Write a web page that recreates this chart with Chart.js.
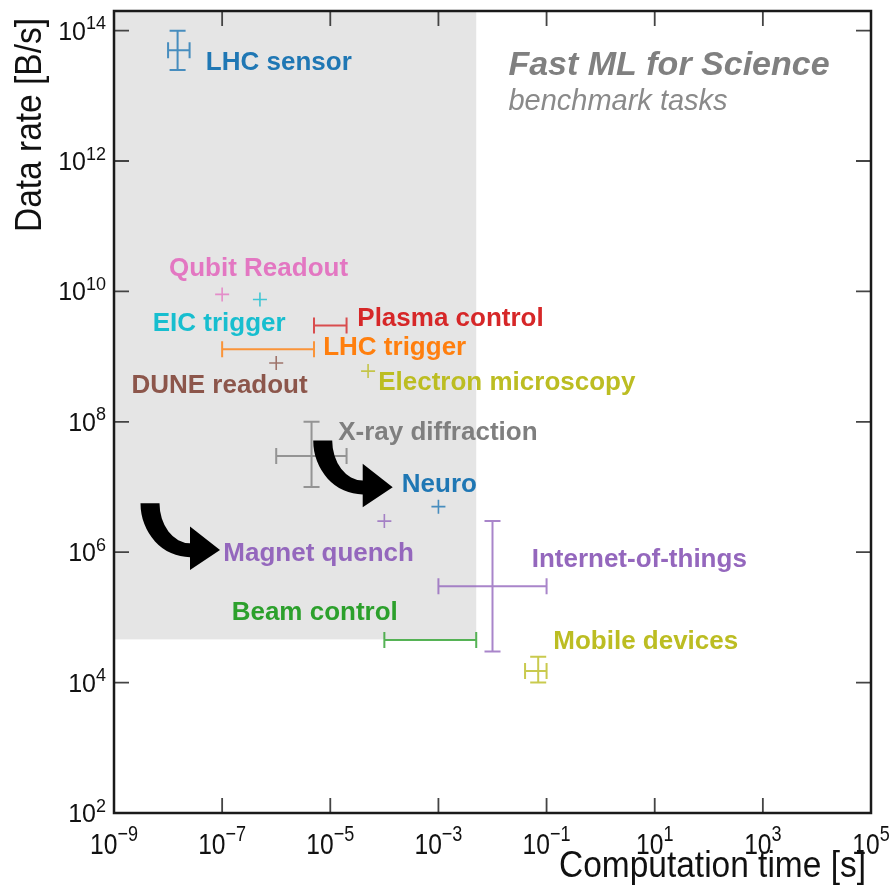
<!DOCTYPE html>
<html>
<head>
<meta charset="utf-8">
<script src="https://cdn.jsdelivr.net/npm/chart.js@4.4.1/dist/chart.umd.min.js"></script>
<style>
  html, body { margin: 0; padding: 0; background: #ffffff; }
  #wrap { width: 895px; height: 888px; position: relative; }
</style>
</head>
<body>
<div id="wrap"><canvas id="chart" width="895" height="888"></canvas></div>
<script>
// Benchmark tasks: computation time [s] vs data rate [B/s]
const TASKS = ['LHC sensor', 'Qubit Readout', 'EIC trigger', 'Plasma control', 'LHC trigger',
  'DUNE readout', 'Electron microscopy', 'X-ray diffraction', 'Neuro', 'Magnet quench',
  'Internet-of-things', 'Beam control', 'Mobile devices'];
const TIME      = [1.5e-8, 1e-7, 5e-7, 1e-5, 7e-7, 1e-6, 5e-5, 4.5e-6, 1e-3, 1e-4, 1e-2, 7e-4, 7e-2];
const TIME_LOW  = [1e-8, null, null, 5e-6, 1e-7, null, null, 1e-6, null, null, 1e-3, 1e-4, 4e-2];
const TIME_HIGH = [2.5e-8, null, null, 2e-5, 5e-6, null, null, 2e-5, null, null, 1e-1, 5e-3, 1e-1];
const RATE      = [5e13, 9e9, 7.5e9, 3e9, 1.3e9, 8e8, 6e8, 3e7, 5e6, 3e6, 3e5, 4.5e4, 1.5e4];
const RATE_LOW  = [2.5e13, null, null, null, null, null, null, 1e7, null, null, 3e4, null, 1e4];
const RATE_HIGH = [1e14, null, null, null, null, null, null, 1e8, null, null, 3e6, null, 2.5e4];
const COLORS = ['#1f77b4', '#e377c2', '#17becf', '#d62728', '#ff7f0e', '#8c564b', '#bcbd22',
  '#7f7f7f', '#1f77b4', '#9467bd', '#9467bd', '#2ca02c', '#bcbd22'];

// Where each task name is written (data coordinates of the text's left baseline)
const LABEL_AT = [[5e-8, 2.5e13], [1.04e-8, 1.74e10], [5.2e-9, 2.5e9], [3.16e-5, 3e9], [7.4e-6, 1.07e9],
  [2.1e-9, 2.75e8], [7.7e-5, 3.1e8], [1.4e-5, 5.2e7], [2.1e-4, 8.5e6], [1.05e-7, 7.4e5],
  [5.3e-2, 6e5], [1.5e-7, 9.2e4], [1.33e-1, 3.25e4]];

// Shaded "fast" region and the two highlight arrows (arrow tips, data coordinates)
const REGION_TIME = [1e-9, 5e-3];
const REGION_RATE = [4.6e4, 2e14];
const ARROW_TIPS = [[9.13e-8, 1.085e6], [1.427e-4, 9.95e6]];

// Axis ranges and tick exponents
const X_RANGE = [1e-9, 1e5];
const Y_RANGE = [1e2, 2e14];
const X_TICK_EXP = [-9, -7, -5, -3, -1, 1, 3, 5];
const Y_TICK_EXP = [2, 4, 6, 8, 10, 12, 14];

const FONT = '"Liberation Sans", Arial, Helvetica, sans-serif';

function hexA(hex, a) {
  const n = parseInt(hex.slice(1), 16);
  return `rgba(${(n >> 16) & 255},${(n >> 8) & 255},${n & 255},${a})`;
}

const datasets = TASKS.map((name, i) => {
  const hasBars = TIME_LOW[i] !== null || RATE_LOW[i] !== null;
  return {
    label: name,
    data: [{ x: TIME[i], y: RATE[i] }],
    pointStyle: 'cross',
    pointRadius: hasBars ? 0 : 7,
    pointHoverRadius: hasBars ? 0 : 7,
    borderColor: hexA(COLORS[i], 0.8),
    backgroundColor: hexA(COLORS[i], 0.8),
    pointBorderWidth: 1.6
  };
});

const shadePlugin = {
  id: 'shade',
  beforeDatasetsDraw(chart) {
    const { ctx, chartArea: a, scales: { x, y } } = chart;
    ctx.save();
    ctx.beginPath(); ctx.rect(a.left, a.top, a.right - a.left, a.bottom - a.top); ctx.clip();
    const x0 = x.getPixelForValue(REGION_TIME[0]), x1 = x.getPixelForValue(REGION_TIME[1]);
    const y0 = y.getPixelForValue(REGION_RATE[1]), y1 = y.getPixelForValue(REGION_RATE[0]);
    ctx.fillStyle = '#e5e5e5';
    ctx.fillRect(x0, y0, x1 - x0, y1 - y0);
    ctx.restore();
  }
};

const errorBarPlugin = {
  id: 'errorBars',
  afterDatasetsDraw(chart) {
    const { ctx, scales: { x, y } } = chart;
    const cap = 8;
    ctx.save();
    ctx.lineWidth = 2;
    TASKS.forEach((_, i) => {
      const cx = x.getPixelForValue(TIME[i]);
      const cy = y.getPixelForValue(RATE[i]);
      ctx.strokeStyle = hexA(COLORS[i], 0.8);
      ctx.beginPath();
      if (TIME_LOW[i] !== null) {
        const a = x.getPixelForValue(TIME_LOW[i]), b = x.getPixelForValue(TIME_HIGH[i]);
        ctx.moveTo(a, cy); ctx.lineTo(b, cy);
        ctx.moveTo(a, cy - cap); ctx.lineTo(a, cy + cap);
        ctx.moveTo(b, cy - cap); ctx.lineTo(b, cy + cap);
      }
      if (RATE_LOW[i] !== null) {
        const a = y.getPixelForValue(RATE_LOW[i]), b = y.getPixelForValue(RATE_HIGH[i]);
        ctx.moveTo(cx, a); ctx.lineTo(cx, b);
        ctx.moveTo(cx - cap, a); ctx.lineTo(cx + cap, a);
        ctx.moveTo(cx - cap, b); ctx.lineTo(cx + cap, b);
      }
      ctx.stroke();
    });
    ctx.restore();
  }
};

function drawArrow(ctx, tx, ty) {
  // curved block arrow: tail at upper left, bending down and pointing right
  const cx = tx - 30, cy = ty - 46.7;
  ctx.beginPath();
  ctx.ellipse(cx, cy, 49.5, 54, 0, Math.PI, Math.PI / 2, true);
  ctx.lineTo(cx, ty + 20);
  ctx.lineTo(tx, ty);
  ctx.lineTo(cx, ty - 23.5);
  ctx.lineTo(cx, cy + 40);
  ctx.ellipse(cx, cy, 30.5, 40, 0, Math.PI / 2, Math.PI, false);
  ctx.closePath();
  ctx.fillStyle = '#000000';
  ctx.fill();
}

// text squeezed horizontally (narrow face used on the axes)
function narrowText(ctx, text, px, py, sx) {
  ctx.save();
  ctx.translate(px, py);
  ctx.scale(sx, 1);
  ctx.fillText(text, 0, 0);
  ctx.restore();
}

const annotatePlugin = {
  id: 'annotate',
  afterDatasetsDraw(chart) {
    const { ctx, chartArea: a, scales: { x, y } } = chart;
    ctx.save();
    ARROW_TIPS.forEach(([t, r]) => drawArrow(ctx, x.getPixelForValue(t), y.getPixelForValue(r)));
    ctx.font = `bold 26px ${FONT}`;
    ctx.textAlign = 'left';
    ctx.textBaseline = 'alphabetic';
    TASKS.forEach((name, i) => {
      ctx.fillStyle = COLORS[i];
      ctx.fillText(name, x.getPixelForValue(LABEL_AT[i][0]), y.getPixelForValue(LABEL_AT[i][1]));
    });
    const w = a.right - a.left, h = a.bottom - a.top;
    ctx.fillStyle = '#808080';
    ctx.font = `italic bold 34px ${FONT}`;
    ctx.fillText('Fast ML for Science', a.left + 0.521 * w, a.top + 0.0798 * h);
    ctx.fillStyle = '#8a8a8a';
    ctx.font = `italic 29px ${FONT}`;
    ctx.fillText('benchmark tasks', a.left + 0.521 * w, a.top + 0.124 * h);
    ctx.restore();
  }
};

function powLabel(ctx, exp, px, py, align, size, sx) {
  const base = '10', sup = exp < 0 ? '\u2212' + Math.abs(exp) : String(exp);
  const ss = Math.round(size * 0.72);
  ctx.font = `${size}px ${FONT}`;
  const wb = ctx.measureText(base).width * sx;
  ctx.font = `${ss}px ${FONT}`;
  const ws = ctx.measureText(sup).width * sx;
  const total = wb + ws;
  const left = align === 'center' ? px - total / 2 : px - total;
  ctx.textAlign = 'left';
  ctx.textBaseline = 'alphabetic';
  ctx.font = `${size}px ${FONT}`;
  narrowText(ctx, base, left, py, sx);
  ctx.font = `${ss}px ${FONT}`;
  narrowText(ctx, sup, left + wb, py - size * 0.42, sx);
}

const framePlugin = {
  id: 'frame',
  afterDraw(chart) {
    const { ctx, chartArea: a, scales: { x, y } } = chart;
    const tl = 15;
    ctx.save();
    ctx.strokeStyle = '#444444';
    ctx.lineWidth = 1.8;
    ctx.beginPath();
    X_TICK_EXP.forEach(e => {
      const px = x.getPixelForValue(Math.pow(10, e));
      ctx.moveTo(px, a.bottom); ctx.lineTo(px, a.bottom - tl);
      ctx.moveTo(px, a.top); ctx.lineTo(px, a.top + tl);
    });
    Y_TICK_EXP.forEach(e => {
      const py = y.getPixelForValue(Math.pow(10, e));
      ctx.moveTo(a.left, py); ctx.lineTo(a.left + tl, py);
      ctx.moveTo(a.right, py); ctx.lineTo(a.right - tl, py);
    });
    ctx.stroke();
    ctx.strokeStyle = '#1a1a1a';
    ctx.lineWidth = 2.5;
    ctx.strokeRect(a.left, a.top, a.right - a.left, a.bottom - a.top);

    ctx.fillStyle = '#111111';
    X_TICK_EXP.forEach(e => powLabel(ctx, e, x.getPixelForValue(Math.pow(10, e)), a.bottom + 41, 'center', 30, 0.82));
    Y_TICK_EXP.forEach(e => powLabel(ctx, e, a.left - 8, y.getPixelForValue(Math.pow(10, e)) + 9, 'right', 25, 1));

    ctx.font = `36px ${FONT}`;
    ctx.textAlign = 'left';
    ctx.textBaseline = 'alphabetic';
    const sx = 0.93;
    const tw = ctx.measureText('Computation time [s]').width * sx;
    narrowText(ctx, 'Computation time [s]', a.right - 5 - tw, 877, sx);
    const yw = ctx.measureText('Data rate [B/s]').width * sx;
    ctx.translate(41, a.top + 7 + yw);
    ctx.rotate(-Math.PI / 2);
    narrowText(ctx, 'Data rate [B/s]', 0, 0, sx);
    ctx.restore();
  }
};

new Chart(document.getElementById('chart'), {
  type: 'scatter',
  data: { datasets },
  options: {
    responsive: false,
    animation: false,
    devicePixelRatio: 1,
    layout: { padding: { left: 114, right: 24, top: 11, bottom: 75 } },
    plugins: { legend: { display: false }, tooltip: { enabled: false } },
    scales: {
      x: { type: 'logarithmic', min: X_RANGE[0], max: X_RANGE[1], display: false },
      y: { type: 'logarithmic', min: Y_RANGE[0], max: Y_RANGE[1], display: false }
    }
  },
  plugins: [shadePlugin, errorBarPlugin, annotatePlugin, framePlugin]
});
</script>
</body>
</html>
